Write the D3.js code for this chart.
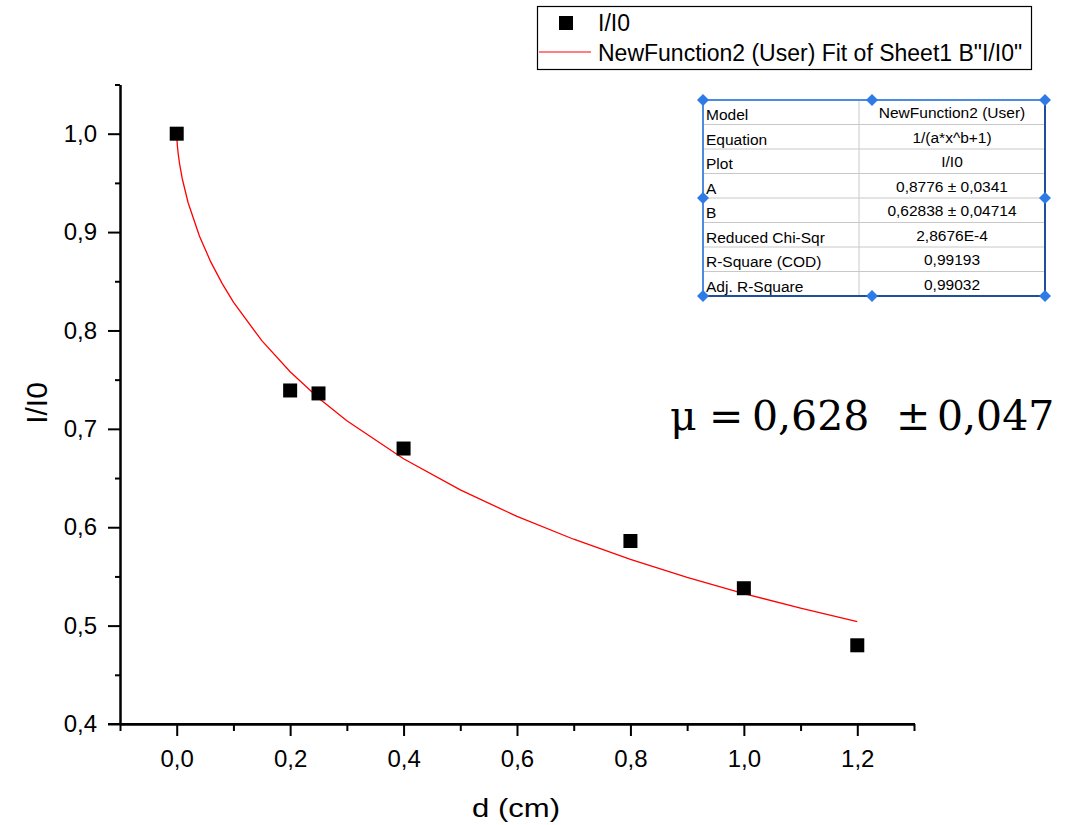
<!DOCTYPE html>
<html><head><meta charset="utf-8">
<script src="https://cdn.jsdelivr.net/npm/d3@7"></script>
<style>body{margin:0;background:#fff}svg{display:block}</style>
</head><body><svg id="c" width="1084" height="825"></svg>
<script>
const dValues = [0, 0.2, 0.25, 0.4, 0.8, 1.0, 1.2];
const ratioValues = [1.0, 0.739, 0.736, 0.680, 0.586, 0.538, 0.480];
const fitX = [0, 0.001, 0.0025, 0.005, 0.01, 0.02, 0.04, 0.06, 0.08, 0.1, 0.15, 0.2, 0.25, 0.3, 0.4, 0.5, 0.6, 0.7, 0.8, 0.9, 1.0, 1.1, 1.2];
const fitY = [1.0, 0.9887, 0.9801, 0.9695, 0.9537, 0.9301, 0.8960, 0.8697, 0.8479, 0.8288, 0.7896, 0.7580, 0.7314, 0.7083, 0.6696, 0.6379, 0.6110, 0.5878, 0.5673, 0.5490, 0.5326, 0.5177, 0.5040];
const xTicks = [0, 0.2, 0.4, 0.6, 0.8, 1.0, 1.2];
const xMinor = [-0.1, 0.1, 0.3, 0.5, 0.7, 0.9, 1.1, 1.3];
const yTicks = [0.4, 0.5, 0.6, 0.7, 0.8, 0.9, 1.0];
const yMinor = [0.45, 0.55, 0.65, 0.75, 0.85, 0.95, 1.05];
const legendLabels = ["I/I0", "NewFunction2 (User) Fit of Sheet1 B\"I/I0\""];
const tableRows = [
  ["Model", "NewFunction2 (User)"],
  ["Equation", "1/(a*x^b+1)"],
  ["Plot", "I/I0"],
  ["A", "0,8776 \u00b1 0,0341"],
  ["B", "0,62838 \u00b1 0,04714"],
  ["Reduced Chi-Sqr", "2,8676E-4"],
  ["R-Square (COD)", "0,99193"],
  ["Adj. R-Square", "0,99032"]
];
const muParts = ["\u03bc", "=", "0,628", "\u00b1", "0,047"];

const svg = d3.select("#c");
const font = "Arial, 'Liberation Sans', sans-serif";
const x = d3.scaleLinear().domain([-0.1, 1.3]).range([120, 914]);
const y = d3.scaleLinear().domain([0.4, 1.05]).range([724, 84.5]);
const fmt = d => d3.format(".1f")(d).replace(".", ",");

// X axis
const xg = svg.append("g").attr("transform", "translate(0,724)");
xg.call(d3.axisBottom(x).tickValues(xTicks).tickFormat(fmt).tickSize(12).tickSizeOuter(0).tickPadding(14));
xg.append("g").call(d3.axisBottom(x).tickValues(xMinor).tickFormat("").tickSize(7).tickSizeOuter(0));
// Y axis
const yg = svg.append("g").attr("transform", "translate(120,0)");
yg.call(d3.axisLeft(y).tickValues(yTicks).tickFormat(fmt).tickSize(12).tickSizeOuter(0).tickPadding(11));
yg.append("g").call(d3.axisLeft(y).tickValues(yMinor).tickFormat("").tickSize(5).tickSizeOuter(0));
svg.selectAll(".domain, .tick line").attr("stroke", "#000").attr("stroke-width", 2);
svg.selectAll(".tick text").attr("font-family", font).attr("font-size", 24).attr("fill", "#000");
xg.selectAll(".tick text").attr("dy", "0.71em");
svg.append("line").attr("x1", 108).attr("x2", 915).attr("y1", 724).attr("y2", 724).attr("stroke", "#000").attr("stroke-width", 2);

// axis titles
svg.append("text").attr("x", 472).attr("y", 817)
  .attr("font-family", font).attr("font-size", 25).attr("textLength", 88).attr("lengthAdjust", "spacingAndGlyphs").text("d (cm)");
svg.append("text").attr("transform", "translate(47,403) rotate(-90)").attr("text-anchor", "middle")
  .attr("font-family", font).attr("font-size", 30).text("I/I0");

// fit line
const line = d3.line().x((d, i) => x(fitX[i])).y(d => y(d));
svg.append("path").datum(fitY).attr("d", line).attr("fill", "none").attr("stroke", "#ff0000").attr("stroke-width", 1.3);

// points
svg.selectAll("rect.pt").data(dValues).join("rect").attr("class", "pt")
  .attr("x", d => x(d) - 7).attr("y", (d, i) => y(ratioValues[i]) - 7)
  .attr("width", 14).attr("height", 14).attr("fill", "#000");

// legend
const lg = svg.append("g");
lg.append("rect").attr("x", 537.5).attr("y", 6.5).attr("width", 494).attr("height", 63).attr("fill", "#fff").attr("stroke", "#000").attr("stroke-width", 1.2);
lg.append("rect").attr("x", 559).attr("y", 16).attr("width", 14).attr("height", 14).attr("fill", "#000");
lg.append("line").attr("x1", 539).attr("x2", 591).attr("y1", 52).attr("y2", 52).attr("stroke", "#ff0000").attr("stroke-width", 1.2);
lg.selectAll("text").data(legendLabels).join("text")
  .attr("x", 598).attr("y", (d, i) => 31 + i * 30)
  .attr("font-family", font).attr("font-size", 23).text(d => d);

// table
const tx0 = 703, tx1 = 859, tx2 = 1045, ty0 = 100, rowH = 24.5;
const tg = svg.append("g");
tg.append("rect").attr("x", tx0).attr("y", ty0).attr("width", tx2 - tx0).attr("height", rowH * tableRows.length).attr("fill", "#fff");
tableRows.forEach((r, i) => {
  if (i > 0) tg.append("line").attr("x1", tx0).attr("x2", tx2).attr("y1", ty0 + i * rowH).attr("y2", ty0 + i * rowH).attr("stroke", "#c8c8c8").attr("stroke-width", 1);
  tg.append("text").attr("x", tx0 + 3).attr("y", ty0 + i * rowH + 20).attr("font-family", font).attr("font-size", 15.5).text(r[0]);
  tg.append("text").attr("x", (tx1 + tx2) / 2).attr("y", ty0 + i * rowH + 18).attr("text-anchor", "middle").attr("font-family", font).attr("font-size", 15.5).text(r[1]);
});
tg.append("line").attr("x1", tx1).attr("x2", tx1).attr("y1", ty0).attr("y2", ty0 + rowH * 8).attr("stroke", "#c8c8c8").attr("stroke-width", 1);
tg.append("rect").attr("x", tx0).attr("y", ty0).attr("width", tx2 - tx0).attr("height", rowH * 8).attr("fill", "none").attr("stroke", "#1f4e9a").attr("stroke-width", 2);
tg.append("line").attr("x1", tx0).attr("x2", tx2).attr("y1", ty0).attr("y2", ty0).attr("stroke", "#4a8de0").attr("stroke-width", 2);
tg.append("line").attr("x1", tx0).attr("x2", tx0).attr("y1", ty0).attr("y2", ty0 + rowH * 8).attr("stroke", "#4a8de0").attr("stroke-width", 2);
const handles = [[tx0, ty0], [872, ty0], [tx2, ty0], [tx0, ty0 + rowH * 4], [tx2, ty0 + rowH * 4], [tx0, ty0 + rowH * 8], [872, ty0 + rowH * 8], [tx2, ty0 + rowH * 8]];
tg.selectAll("path.h").data(handles).join("path").attr("class", "h")
  .attr("d", d => `M${d[0]},${d[1] - 6}L${d[0] + 6},${d[1]}L${d[0]},${d[1] + 6}L${d[0] - 6},${d[1]}Z`)
  .attr("fill", "#2e7be6");

// mu annotation
const muX = [670, 709, 752, 896, 937];
const mu = svg.append("text").attr("y", 430).attr("font-family", "'DejaVu Serif', 'Liberation Serif', serif").attr("font-size", 41);
mu.selectAll("tspan").data(muParts).join("tspan").attr("x", (d, i) => muX[i]).text(d => d);
</script></body></html>
